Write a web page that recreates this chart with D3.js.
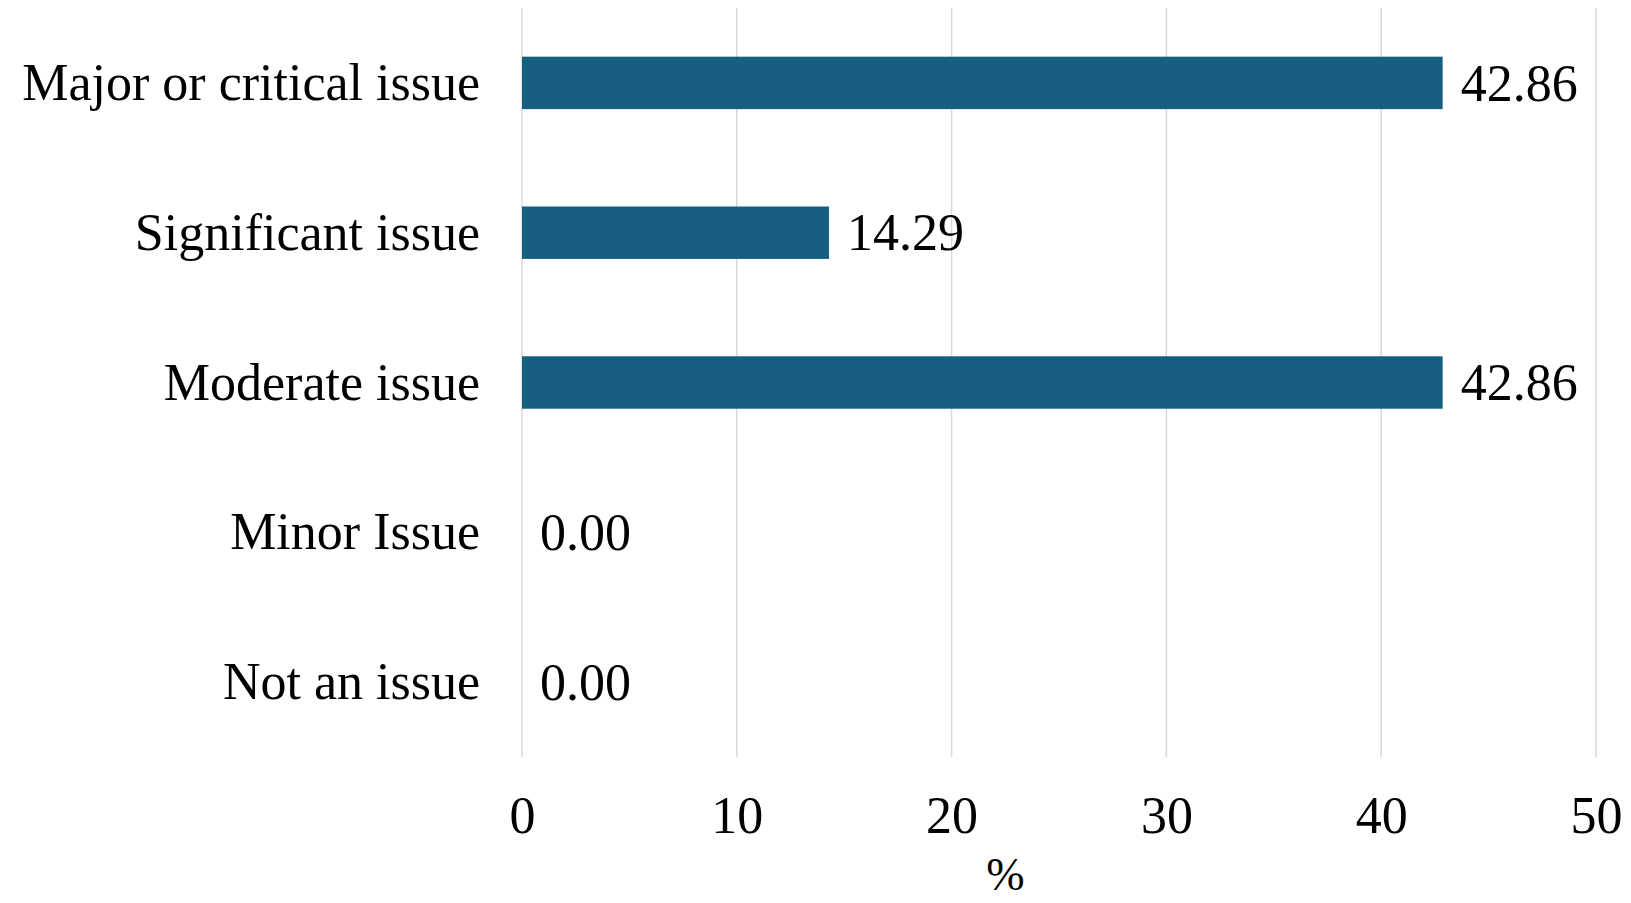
<!DOCTYPE html>
<html>
<head>
<meta charset="utf-8">
<script src="https://cdn.jsdelivr.net/npm/d3@7"></script>
<style>
  html, body { margin: 0; padding: 0; background: #fff; }
  svg text { font-family: "Liberation Serif", "DejaVu Serif", serif; fill: #000; }
</style>
</head>
<body>
<svg id="chart" width="1631" height="903"></svg>
<script>
// Share of respondents by severity rating
const categories = ["Major or critical issue", "Significant issue", "Moderate issue", "Minor Issue", "Not an issue"];
const values = [42.86, 14.29, 42.86, 0.00, 0.00];
const xTicks = [0, 10, 20, 30, 40, 50];
const xTitle = "%";

const svg = d3.select("#chart");
const margin = { top: 8, right: 35, bottom: 146, left: 522 };
const W = 1631, H = 903;
const innerW = W - margin.left - margin.right;
const innerH = H - margin.top - margin.bottom;
const fontSize = 52;

const g = svg.append("g").attr("transform", `translate(${margin.left},${margin.top})`);

const x = d3.scaleLinear().domain([0, 50]).range([0, innerW]);
const y = d3.scaleBand().domain(categories).range([0, innerH]).paddingInner(0.65).paddingOuter(0.325);

// vertical gridlines
g.append("g")
  .selectAll("line")
  .data(xTicks)
  .join("line")
  .attr("x1", d => x(d)).attr("x2", d => x(d))
  .attr("y1", 0).attr("y2", innerH)
  .attr("stroke", "#d9d9d9")
  .attr("stroke-width", 1.5);

// x axis tick labels
const xAxis = d3.axisBottom(x).tickValues(xTicks).tickSize(0).tickFormat(d3.format("d"));
const xg = g.append("g").attr("transform", `translate(0,${innerH})`).call(xAxis);
xg.select(".domain").remove();
xg.selectAll("text")
  .attr("y", 76)
  .attr("dy", null)
  .attr("font-family", null)
  .style("font-size", fontSize + "px");

// x axis title
g.append("text")
  .attr("x", x(22.5))
  .attr("y", innerH + 133)
  .attr("text-anchor", "middle")
  .style("font-size", "46px")
  .text(xTitle);

// y axis category labels
const yAxis = d3.axisLeft(y).tickSize(0).tickPadding(42);
const yg = g.append("g").call(yAxis);
yg.select(".domain").remove();
yg.selectAll("text")
  .attr("dy", "0.33em")
  .attr("font-family", null)
  .style("font-size", fontSize + "px");

// bars
const rows = categories.map((c, i) => ({ c, v: values[i] }));
g.append("g")
  .selectAll("rect")
  .data(rows)
  .join("rect")
  .attr("x", x(0))
  .attr("y", d => y(d.c))
  .attr("width", d => x(d.v) - x(0))
  .attr("height", y.bandwidth())
  .attr("fill", "#175f80");

// value labels
g.append("g")
  .selectAll("text")
  .data(rows)
  .join("text")
  .attr("x", d => x(d.v) + 18)
  .attr("y", d => y(d.c) + y.bandwidth() / 2)
  .attr("dy", "0.34em")
  .style("font-size", fontSize + "px")
  .text(d => d3.format(".2f")(d.v));
</script>
</body>
</html>
